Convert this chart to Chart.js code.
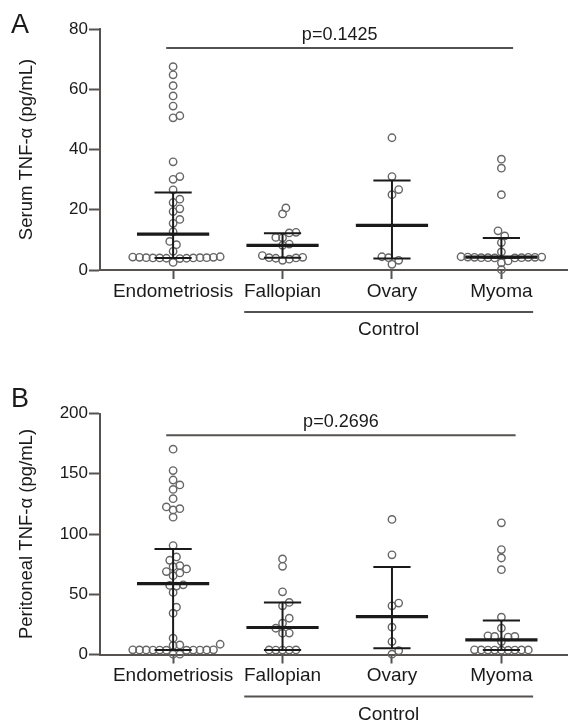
<!DOCTYPE html>
<html>
<head>
<meta charset="utf-8">
<script src="https://cdn.jsdelivr.net/npm/chart.js@4.4.1/dist/chart.umd.min.js"></script>
<style>
  html, body { margin: 0; padding: 0; background: #fff; }
  #wrap { position: relative; width: 573px; height: 723px; }
  canvas { position: absolute; left: 0; }
</style>
</head>
<body>
<div id="wrap">
  <canvas id="serum" width="573" height="360" style="top:0"></canvas>
  <canvas id="peritoneal" width="573" height="363" style="top:360px"></canvas>
</div>
<script>
const groups = ['Endometriosis', 'Fallopian', 'Ovary', 'Myoma'];

// serum TNF-α, pg/mL
const serumEndometriosis = [67.5, 64.8, 61.2, 57.8, 54.4, 51.2, 50.5, 35.9, 31.0, 30.1, 26.6, 23.5, 22.4,
  20.3, 19.4, 16.8, 15.5, 12.7, 9.5, 8.4, 6.2, 4.4, 4.3, 4.2, 4.2, 4.1, 4.1, 4.1, 4.0, 4.0, 4.0, 3.9, 3.9, 3.8, 2.5];
const serumFallopian = [20.6, 18.6, 12.5, 12.3, 10.8, 10.7, 8.6, 8.2, 4.8, 4.2, 4.1, 4.0, 3.9, 3.6, 3.2];
const serumOvary = [43.9, 31.0, 26.7, 25.0, 4.4, 4.1, 3.2, 1.9];
const serumMyoma = [36.8, 33.8, 25.0, 13.0, 11.3, 9.1, 6.0, 4.4, 4.3, 4.3, 4.2, 4.2, 4.2, 4.1, 4.1, 4.1,
  4.0, 4.0, 3.0, 2.4, 0.1];
const serumMedian = [11.9, 8.2, 14.8, 4.3];
const serumQ1 = [4.0, 4.1, 3.8, 4.1];
const serumQ3 = [25.7, 12.2, 29.7, 10.6];

// peritoneal TNF-α, pg/mL
const periEndometriosis = [170.4, 152.6, 144.8, 140.7, 137.0, 129.3, 122.5, 121.0, 120.0, 114.0, 90.4, 81.0,
  78.2, 73.7, 72.9, 71.0, 68.8, 67.7, 65.4, 57.8, 57.3, 56.8, 51.5, 39.3, 34.3, 13.5, 8.5, 7.9, 7.5,
  3.9, 3.8, 3.8, 3.8, 3.7, 3.7, 3.7, 3.6, 3.6, 3.9, 3.7, 0.3, 0.2];
const periFallopian = [79.3, 73.2, 52.0, 43.2, 40.4, 30.1, 26.0, 21.8, 17.8, 17.7, 3.8, 3.8, 3.7, 3.7, 3.7];
const periOvary = [112.1, 82.7, 42.7, 40.4, 22.7, 10.7, 3.2, 0.3];
const periMyoma = [109.3, 87.1, 80.1, 70.4, 31.0, 21.8, 15.5, 15.0, 15.0, 14.5, 10.7, 3.9, 3.8, 3.8,
  3.7, 3.7, 3.7, 3.6, 3.6, 3.8];
const periMedian = [58.8, 22.4, 31.5, 12.1];
const periQ1 = [3.75, 3.75, 5.1, 3.75];
const periQ3 = [87.6, 43.2, 72.7, 28.2];

const FONT = '"Liberation Sans", Arial, Helvetica, sans-serif';
const AXIS = '#55524f';
const INK = '#1a1a1a';
const DOT = '#666666';
const X_MIN = -0.668, X_MAX = 3.605;
const PLOT_W = 473, PLOT_H = 241;

// push points sideways so circles with similar values don't pile up
function swarm(values, unitX, unitY, gap) {
  const order = values.map((v, i) => i).sort((a, b) => values[a] - values[b]);
  const placed = [];
  const offsets = values.map(() => 0);
  order.forEach(i => {
    const py = values[i] * unitY;
    for (let k = 0; k < 60; k++) {
      const px = Math.ceil(k / 2) * (k % 2 ? 1 : -1) * gap / 2;
      if (!placed.some(p => Math.hypot(p.x - px, p.y - py) < gap - 0.01)) {
        placed.push({x: px, y: py});
        offsets[i] = px / unitX;
        break;
      }
    }
  });
  return offsets;
}

function dotData(columns, yMax) {
  const unitX = PLOT_W / (X_MAX - X_MIN);
  const unitY = PLOT_H / yMax;
  const out = [];
  columns.forEach((vals, g) => {
    const offs = swarm(vals, unitX, unitY, 6.8);
    vals.forEach((v, j) => out.push({x: g + offs[j], y: v}));
  });
  return out;
}

function medianSegments(med) {
  const out = [];
  med.forEach((m, g) => out.push({x: g - 0.33, y: m}, {x: g + 0.33, y: m}, {x: g, y: null}));
  return out;
}

function iqrSegments(q1, q3) {
  const out = [];
  q1.forEach((lo, g) => {
    const hi = q3[g];
    out.push({x: g, y: lo}, {x: g, y: hi}, {x: g, y: null});
    out.push({x: g - 0.17, y: hi}, {x: g + 0.17, y: hi}, {x: g, y: null});
    out.push({x: g - 0.17, y: lo}, {x: g + 0.17, y: lo}, {x: g, y: null});
  });
  return out;
}

// panel letter, p-value bracket and the "Control" bracket under the control groups
const panelDecor = {
  id: 'panelDecor',
  afterDraw(chart, args, o) {
    const {ctx, scales: {x, y}} = chart;
    ctx.save();
    ctx.fillStyle = INK;
    ctx.font = '27px ' + FONT;
    ctx.textAlign = 'left';
    ctx.textBaseline = 'alphabetic';
    ctx.fillText(o.letter, 11, o.letterY);

    ctx.strokeStyle = AXIS;
    ctx.lineWidth = 2;
    const py = y.getPixelForValue(o.pY);
    const x1 = x.getPixelForValue(o.pFrom), x2 = x.getPixelForValue(o.pTo);
    ctx.beginPath(); ctx.moveTo(x1, py); ctx.lineTo(x2, py); ctx.stroke();
    ctx.font = '18px ' + FONT;
    ctx.textAlign = 'center';
    ctx.fillText(o.pText, (x1 + x2) / 2, py - 8);

    const cy = y.bottom + 42;
    const c1 = x.getPixelForValue(0.65), c2 = x.getPixelForValue(3.29);
    ctx.beginPath(); ctx.moveTo(c1, cy); ctx.lineTo(c2, cy); ctx.stroke();
    ctx.font = '19px ' + FONT;
    ctx.fillText('Control', (c1 + c2) / 2, y.bottom + 65);
    ctx.restore();
  }
};

function makeChart(id, cols, med, q1, q3, yMax, step, title, decor, padTop, axisH) {
  return new Chart(document.getElementById(id), {
    type: 'scatter',
    data: {
      datasets: [
        {
          data: medianSegments(med),
          type: 'line', showLine: true, spanGaps: false,
          borderColor: INK, borderWidth: 3.2, pointRadius: 0, clip: false, order: 0
        },
        {
          data: iqrSegments(q1, q3),
          type: 'line', showLine: true, spanGaps: false,
          borderColor: INK, borderWidth: 2, pointRadius: 0, clip: false, order: 0
        },
        {
          data: dotData(cols, yMax),
          pointRadius: 3.7, pointBorderWidth: 1.4,
          pointBorderColor: DOT, pointBackgroundColor: 'rgba(255,255,255,0)',
          clip: false, order: 1
        }
      ]
    },
    options: {
      responsive: false,
      animation: false,
      events: [],
      layout: { padding: { top: padTop, right: 1, bottom: 0, left: 0 } },
      plugins: { legend: { display: false }, tooltip: { enabled: false }, panelDecor: decor },
      scales: {
        x: {
          type: 'linear', min: X_MIN, max: X_MAX,
          afterBuildTicks: s => { s.ticks = [0, 1, 2, 3].map(v => ({value: v})); },
          afterFit: s => { s.height = axisH; },
          ticks: {
            callback: v => groups[v], color: INK, padding: 1,
            maxRotation: 0, minRotation: 0, autoSkip: false,
            font: { family: FONT, size: 19 }
          },
          grid: { drawOnChartArea: false, tickLength: 9, tickColor: AXIS, tickWidth: 2 },
          border: { color: AXIS, width: 2 }
        },
        y: {
          min: 0, max: yMax,
          afterFit: s => { s.width = 100; },
          ticks: { stepSize: step, color: INK, padding: 1, font: { family: FONT, size: 17 } },
          grid: { drawOnChartArea: false, tickLength: 11, tickColor: AXIS, tickWidth: 2 },
          border: { color: AXIS, width: 2 },
          title: {
            display: true, text: title, color: INK,
            padding: { top: 16, bottom: 0 },
            font: { family: FONT, size: 18.5 }
          }
        }
      }
    },
    plugins: [panelDecor]
  });
}

makeChart('serum', [serumEndometriosis, serumFallopian, serumOvary, serumMyoma],
  serumMedian, serumQ1, serumQ3, 80, 20, 'Serum TNF-α (pg/mL)',
  { letter: 'A', letterY: 33, pText: 'p=0.1425', pFrom: -0.063, pTo: 3.107, pY: 73.7 }, 29, 90);

makeChart('peritoneal', [periEndometriosis, periFallopian, periOvary, periMyoma],
  periMedian, periQ1, periQ3, 200, 50, 'Peritoneal TNF-α (pg/mL)',
  { letter: 'B', letterY: 47, pText: 'p=0.2696', pFrom: -0.063, pTo: 3.13, pY: 182 }, 53.5, 68.5);
</script>
</body>
</html>
